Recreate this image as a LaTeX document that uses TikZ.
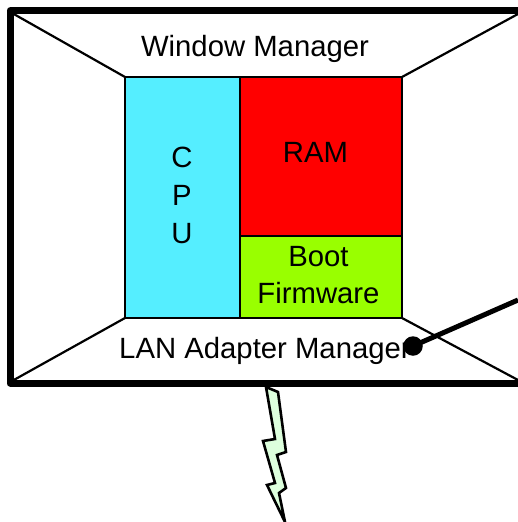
\documentclass[tikz,border=0pt]{standalone}
\usepackage{fontspec}
\setmainfont{Liberation Sans}
\definecolor{cpuc}{RGB}{85,238,255}
\definecolor{bootc}{RGB}{153,255,0}
\definecolor{boltc}{RGB}{221,255,221}
\tikzset{
  x=1pt,y=-1pt,
  panel/.style={draw=black,line width=1.8pt,inner sep=0pt,outer sep=0pt},
  lbl/.style={inner sep=0pt,anchor=base,font=\fontsize{29.3}{35}\selectfont},
  edge/.style={line width=2.2pt},
  frame/.style={line width=7pt,line join=round}
}
\begin{document}
\begin{tikzpicture}
\useasboundingbox (0,0) rectangle (518,522);
\fill[white] (0,0) rectangle (518,522);
\coordinate (tl) at (12,13);
\coordinate (tr) at (518,14);
\coordinate (bl) at (12,381);
\coordinate (br) at (518,380);
\coordinate (fa) at (518,10.7);
\coordinate (fb) at (518,383);
\coordinate (wire) at (518,300);
\coordinate (itl) at (125,77);
\coordinate (itr) at (402,77);
\coordinate (ibl) at (125,318);
\coordinate (ibr) at (402,318);
\draw[edge] (tl) -- (itl);
\draw[edge] (tr) -- (itr);
\draw[edge] (bl) -- (ibl);
\draw[edge] (br) -- (ibr);
\node[panel,fill=cpuc,minimum width=115pt,minimum height=241pt,anchor=north west] (cpu) at (125,77) {};
\node[panel,fill=red,minimum width=162pt,minimum height=159pt,anchor=north west] (ram) at (240,77) {};
\node[panel,fill=bootc,minimum width=162pt,minimum height=82pt,anchor=north west] (boot) at (240,236) {};
\node[lbl] (c) at (182,167.5) {C};
\node[lbl] (p) at (182,205) {P};
\node[lbl] (u) at (182,243) {U};
\node[lbl] (ramt) at (315.5,162.7) {RAM};
\node[lbl] (boott) at (318.5,266.5) {Boot};
\node[lbl] (firm) at (318.5,303.7) {Firmware};
\node[lbl] (wm) at (255,56.7) {Window Manager};
\node[lbl] (lan) at (265,358.7) {LAN Adapter Manager};
\draw[frame] (fa) -- (10,10.7) -- (10,383) -- (fb);
\node[circle,fill=black,minimum size=19.5pt,inner sep=0pt] (dot) at (413,346) {};
\draw[line width=5pt] (dot.center) -- (wire);
\draw[line width=2.6pt,fill=boltc,line join=miter,miter limit=10]
  (266,387) -- (278,392) -- (286,452) -- (277,455) -- (286,488) -- (279,493) -- (285,522)
  -- (267,485) -- (275,483) -- (263,441) -- (275,439) -- cycle;
\end{tikzpicture}
\end{document}
